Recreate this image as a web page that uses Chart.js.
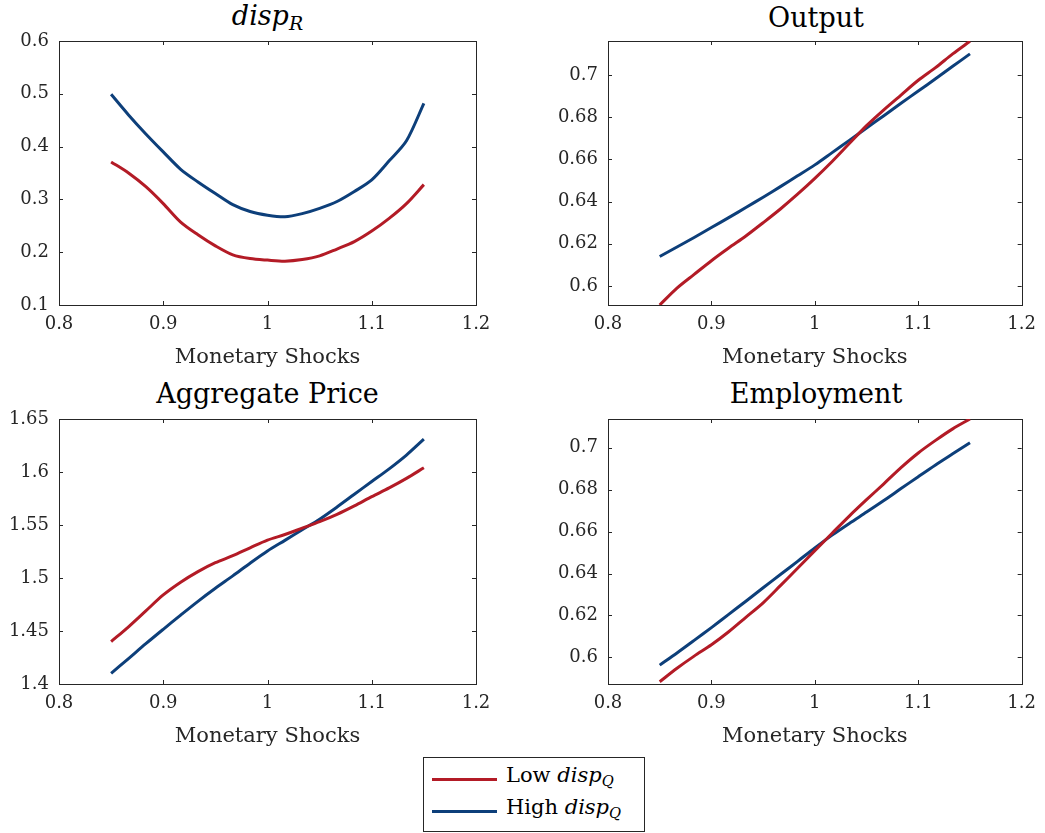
<!DOCTYPE html>
<html>
<head>
<meta charset="utf-8">
<script src="https://cdn.jsdelivr.net/npm/chart.js@4"></script>
<style>
  body { margin: 0; background: #fff; width: 1045px; height: 833px; position: relative; overflow: hidden; font-family: 'DejaVu Serif', serif; }
  canvas { position: absolute; }
  .ttl { position: absolute; text-align: center; font-size: 27px; line-height: 27px; color: #000; white-space: nowrap; }
  .ttl sub, .leg sub { font-size: 0.7em; line-height: 0; vertical-align: -0.28em; font-style: normal; }
  .leg { position: absolute; font-size: 21px; line-height: 21px; color: #000; white-space: nowrap; }
  .swatch { position: absolute; height: 3px; }
</style>
</head>
<body>

<div class="ttl" style="left:59px; top:2px; width:417px;"><i>disp</i><sub><i>R</i></sub></div>
<div class="ttl" style="left:608px; top:4px; width:416px;">Output</div>
<div class="ttl" style="left:59px; top:380px; width:417px;">Aggregate Price</div>
<div class="ttl" style="left:608px; top:380px; width:416px;">Employment</div>

<canvas id="c1" width="500" height="375" style="left:0px; top:0px;"></canvas>
<canvas id="c2" width="505" height="375" style="left:540px; top:0px;"></canvas>
<canvas id="c3" width="500" height="376" style="left:0px; top:378px;"></canvas>
<canvas id="c4" width="505" height="376" style="left:540px; top:378px;"></canvas>

<!-- 共通の凡例 -->
<div style="position:absolute; left:423px; top:757px; width:220px; height:73px; border:1px solid #262626; background:#fff;"></div>
<div class="swatch" style="left:432px; top:778px; width:65px; background:#b31b26;"></div>
<div class="swatch" style="left:432px; top:810px; width:65px; background:#0d3f7a;"></div>
<div class="leg" style="left:506px; top:765px;">Low <i>disp</i><sub><i>Q</i></sub></div>
<div class="leg" style="left:506px; top:797px;">High <i>disp</i><sub><i>Q</i></sub></div>

<script>
// 横軸: 金融ショック
const shocks = [0.85, 0.8667, 0.8833, 0.9, 0.9167, 0.9333, 0.95, 0.9667, 0.9833, 1.0,
                1.0167, 1.0333, 1.05, 1.0667, 1.0833, 1.1, 1.1167, 1.1333, 1.15];

// disp_R
const dispRLow  = [0.371, 0.350, 0.324, 0.292, 0.257, 0.233, 0.212, 0.195, 0.188, 0.185,
                   0.183, 0.186, 0.193, 0.206, 0.220, 0.240, 0.264, 0.292, 0.328];
const dispRHigh = [0.499, 0.460, 0.424, 0.390, 0.357, 0.333, 0.311, 0.290, 0.277, 0.270,
                   0.267, 0.273, 0.283, 0.296, 0.315, 0.337, 0.373, 0.411, 0.482];

// Output
const outputLow  = [0.591, 0.599, 0.6055, 0.612, 0.618, 0.6237, 0.630, 0.6365, 0.6435, 0.651,
                    0.659, 0.6675, 0.676, 0.6835, 0.6905, 0.6975, 0.7035, 0.710, 0.716];
const outputHigh = [0.614, 0.6185, 0.623, 0.6277, 0.6324, 0.6372, 0.6421, 0.6471, 0.6522, 0.6574,
                    0.6632, 0.669, 0.6749, 0.6807, 0.6866, 0.6924, 0.6982, 0.7041, 0.710];

// Aggregate Price
const priceLow  = [1.440, 1.454, 1.469, 1.484, 1.496, 1.506, 1.5144, 1.521, 1.5285, 1.5358,
                   1.541, 1.547, 1.5531, 1.560, 1.568, 1.5767, 1.585, 1.594, 1.604];
const priceHigh = [1.410, 1.424, 1.438, 1.4516, 1.465, 1.478, 1.4903, 1.502, 1.514, 1.5255,
                   1.5355, 1.5455, 1.5555, 1.567, 1.579, 1.591, 1.603, 1.616, 1.631];

// Employment
const employLow  = [0.5884, 0.5948, 0.6006, 0.6060, 0.6122, 0.6191, 0.6260, 0.6342, 0.6425, 0.6509,
                    0.6592, 0.6674, 0.6752, 0.6828, 0.6905, 0.6975, 0.7035, 0.7090, 0.7137];
const employHigh = [0.5963, 0.6021, 0.6081, 0.6142, 0.6205, 0.6268, 0.6332, 0.6395, 0.6458, 0.6522,
                    0.6583, 0.6639, 0.6693, 0.6748, 0.6805, 0.6862, 0.6918, 0.6971, 0.7024];

const xTicks = [0.8, 0.9, 1, 1.1, 1.2];

const RED = '#b31b26';
const BLUE = '#0d3f7a';
const AXIS = '#262626';

Chart.defaults.font.family = "'DejaVu Serif', serif";

// MATLAB風の枠と内向きの目盛り
const axesBox = {
    id: 'axesBox',
    beforeDatasetsDraw(chart) {
        const { ctx, chartArea: a, scales: { x, y } } = chart;
        const len = 4;
        ctx.save();
        ctx.strokeStyle = AXIS;
        ctx.lineWidth = 1;
        ctx.beginPath();
        x.ticks.forEach(t => {
            const px = Math.round(x.getPixelForValue(t.value)) + 0.5;
            ctx.moveTo(px, a.bottom); ctx.lineTo(px, a.bottom - len);
            ctx.moveTo(px, a.top); ctx.lineTo(px, a.top + len);
        });
        y.ticks.forEach(t => {
            const py = Math.round(y.getPixelForValue(t.value)) + 0.5;
            ctx.moveTo(a.left, py); ctx.lineTo(a.left + len, py);
            ctx.moveTo(a.right, py); ctx.lineTo(a.right - len, py);
        });
        ctx.stroke();
        ctx.strokeRect(Math.round(a.left) + 0.5, Math.round(a.top) + 0.5,
                       Math.round(a.right - a.left), Math.round(a.bottom - a.top));
        ctx.restore();
    }
};

const fmt = v => String(Number(Number(v).toFixed(4)));

function makeChart(id, low, high, yMin, yMax, yStep, yWidth, padRight) {
    const ctx = document.getElementById(id).getContext('2d');
    return new Chart(ctx, {
        type: 'line',
        data: {
            datasets: [
                {
                    label: 'Low dispQ',
                    data: shocks.map((s, i) => ({ x: s, y: low[i] })),
                    borderColor: RED,
                    borderWidth: 3,
                    pointRadius: 0,
                    tension: 0.3,
                    fill: false
                },
                {
                    label: 'High dispQ',
                    data: shocks.map((s, i) => ({ x: s, y: high[i] })),
                    borderColor: BLUE,
                    borderWidth: 3,
                    pointRadius: 0,
                    tension: 0.3,
                    fill: false
                }
            ]
        },
        options: {
            responsive: false,
            animation: false,
            devicePixelRatio: 1,
            layout: { padding: { top: 41, right: padRight, bottom: 0, left: 0 } },
            plugins: {
                legend: { display: false },
                tooltip: { enabled: false },
                title: { display: false }
            },
            scales: {
                x: {
                    type: 'linear',
                    min: 0.8,
                    max: 1.2,
                    afterBuildTicks: s => { s.ticks = xTicks.map(v => ({ value: v })); },
                    grid: { display: false, drawTicks: false },
                    border: { display: false },
                    ticks: {
                        padding: 9,
                        color: AXIS,
                        font: { size: 18 },
                        maxRotation: 0,
                        autoSkip: false,
                        callback: fmt
                    },
                    title: {
                        display: true,
                        text: 'Monetary Shocks',
                        color: AXIS,
                        font: { size: 21 },
                        padding: { top: 0, bottom: 5 }
                    },
                    afterFit: s => { s.height = 70; }
                },
                y: {
                    type: 'linear',
                    min: yMin,
                    max: yMax,
                    grid: { display: false, drawTicks: false },
                    border: { display: false },
                    ticks: {
                        stepSize: yStep,
                        includeBounds: false,
                        padding: 10,
                        color: AXIS,
                        font: { size: 18 },
                        autoSkip: false,
                        callback: fmt
                    },
                    afterFit: s => { s.width = yWidth; }
                }
            }
        },
        plugins: [axesBox]
    });
}

makeChart('c1', dispRLow, dispRHigh, 0.1, 0.6, 0.1, 59, 24);
makeChart('c2', outputLow, outputHigh, 0.591, 0.7161, 0.02, 68, 21);
makeChart('c3', priceLow, priceHigh, 1.4, 1.65, 0.05, 59, 24);
makeChart('c4', employLow, employHigh, 0.5873, 0.7137, 0.02, 68, 21);
</script>
</body>
</html>
